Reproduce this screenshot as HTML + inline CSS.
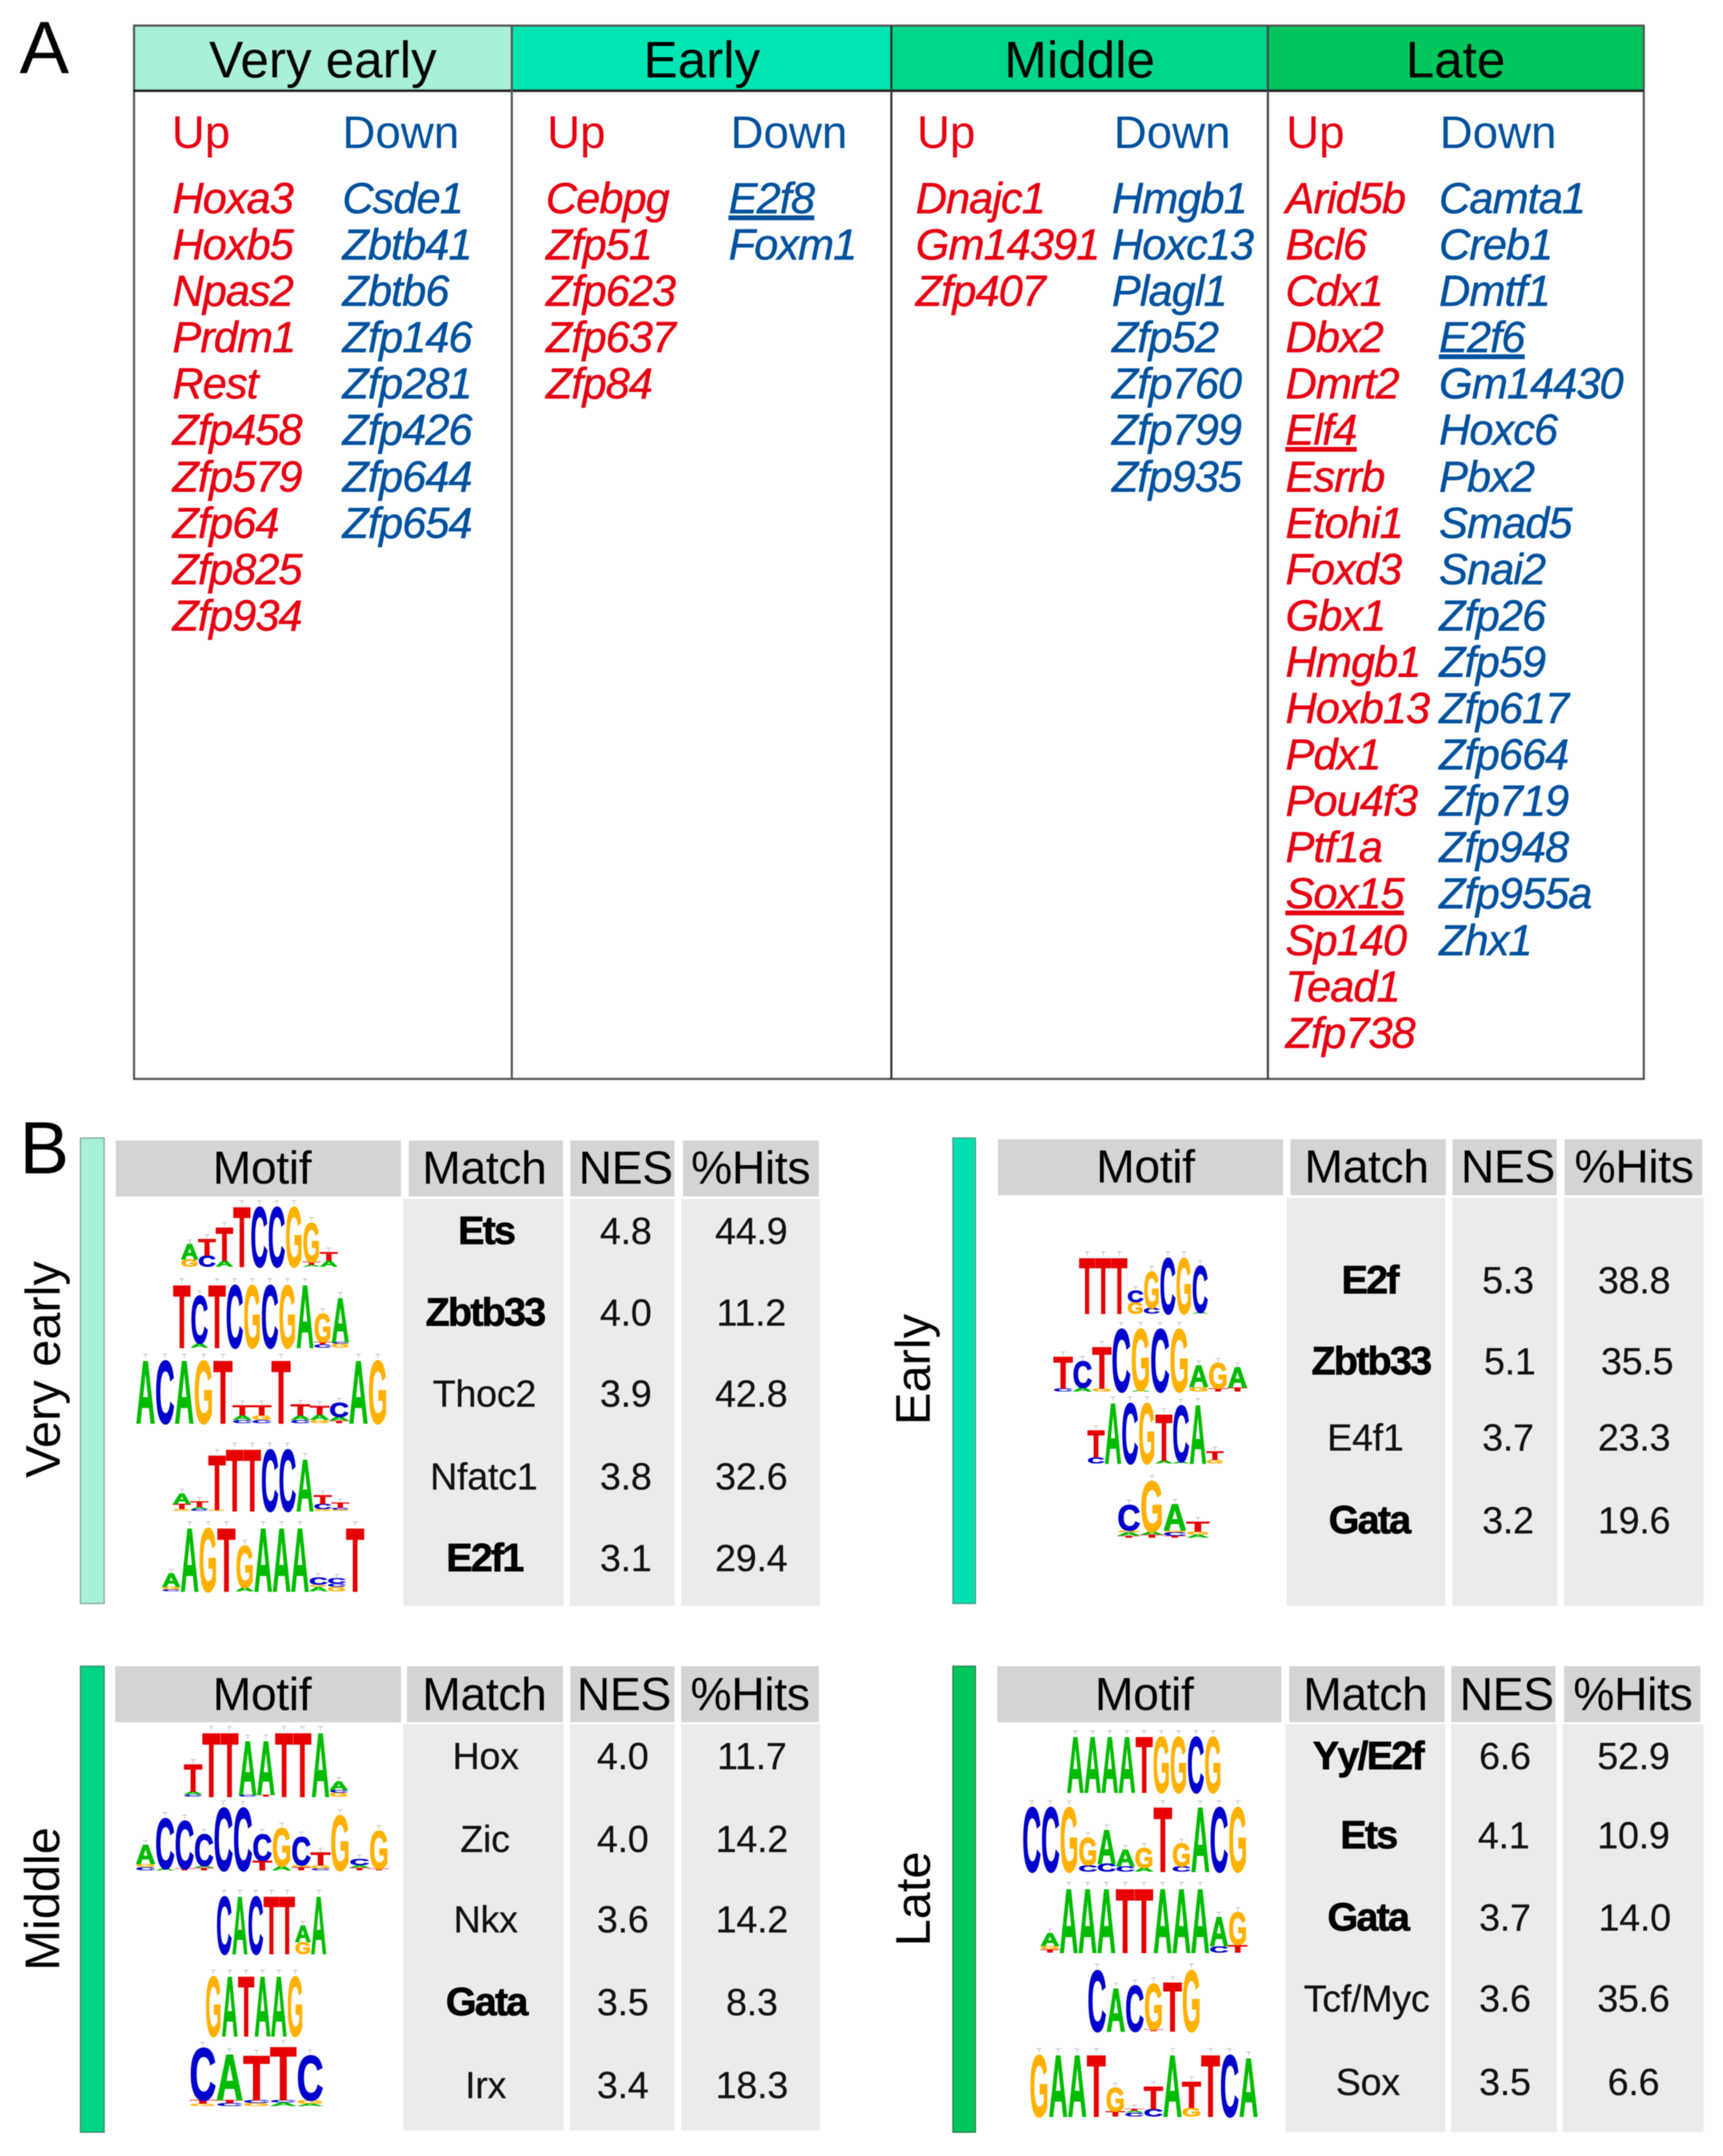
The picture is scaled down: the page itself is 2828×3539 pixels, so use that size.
<!DOCTYPE html>
<html lang="en">
<head>
<meta charset="utf-8">
<title>Transcription factors and motifs by stage</title>
<style>
html,body{margin:0;padding:0;background:#fff;}
svg{display:block;filter:blur(0.9px);}
text{font-family:"Liberation Sans",sans-serif;}
.hd{font-size:84px;text-anchor:middle;fill:#000;}
.up{font-size:75px;fill:#e60012;}
.dn{font-size:75px;fill:#00519e;}
.gu{font-size:71px;font-style:italic;fill:#e60012;letter-spacing:-1.5px;stroke:#e60012;stroke-width:.8px;}
.gd{font-size:71px;font-style:italic;fill:#00519e;letter-spacing:-1.5px;stroke:#00519e;stroke-width:.8px;}
.ul{text-decoration:underline;}
.th{font-size:76px;text-anchor:middle;fill:#000;letter-spacing:-.6px;}
.td{font-size:62px;text-anchor:middle;fill:#111;letter-spacing:-.5px;stroke:#111;stroke-width:.3px;}
.tb{font-size:65px;font-weight:bold;text-anchor:middle;fill:#000;letter-spacing:-3px;stroke:#000;stroke-width:1px;}
.pl{font-size:122px;fill:#000;}
.sl{font-size:80px;text-anchor:middle;fill:#000;}
.hc{fill:#d4d4d4;}
.bc{fill:#ebebeb;}
</style>
</head>
<body>
<svg xmlns="http://www.w3.org/2000/svg" width="2828" height="3539" viewBox="0 0 2828 3539">
<rect width="2828" height="3539" fill="#fff"/>

<text class="pl" x="32" y="120">A</text>
<text class="pl" x="32" y="1926">B</text>

<g>
  <rect x="219" y="42" width="621" height="107" fill="#a8f0d6"/>
  <rect x="840" y="42" width="623" height="107" fill="#00e5b2"/>
  <rect x="1463" y="42" width="618" height="107" fill="#00d68a"/>
  <rect x="2081" y="42" width="617" height="107" fill="#00c65c"/>
  <rect x="220" y="42" width="2478" height="1729" fill="none" stroke="#555" stroke-width="3.5"/>
  <line x1="219" y1="149" x2="2698" y2="149" stroke="#222" stroke-width="4"/>
  <line x1="840" y1="42" x2="840" y2="1771" stroke="#555" stroke-width="3.5"/>
  <line x1="1463" y1="42" x2="1463" y2="1771" stroke="#333" stroke-width="3.5"/>
  <line x1="2081" y1="42" x2="2081" y2="1771" stroke="#444" stroke-width="3.5"/>

  <text class="hd" x="530" y="127">Very early</text>
  <text class="hd" x="1152" y="127">Early</text>
  <text class="hd" x="1772" y="127">Middle</text>
  <text class="hd" x="2389" y="127">Late</text>

  <text class="up" x="282" y="243">Up</text>
  <text class="dn" x="562" y="243">Down</text>
  <text class="up" x="898" y="243">Up</text>
  <text class="dn" x="1199" y="243">Down</text>
  <text class="up" x="1505" y="243">Up</text>
  <text class="dn" x="1828" y="243">Down</text>
  <text class="up" x="2111" y="243">Up</text>
  <text class="dn" x="2363" y="243">Down</text>

  <g>
    <text class="gu" x="283" y="350">Hoxa3</text>
    <text class="gu" x="283" y="426">Hoxb5</text>
    <text class="gu" x="283" y="502">Npas2</text>
    <text class="gu" x="283" y="578">Prdm1</text>
    <text class="gu" x="283" y="654">Rest</text>
    <text class="gu" x="283" y="730">Zfp458</text>
    <text class="gu" x="283" y="807">Zfp579</text>
    <text class="gu" x="283" y="883">Zfp64</text>
    <text class="gu" x="283" y="959">Zfp825</text>
    <text class="gu" x="283" y="1035">Zfp934</text>
  </g>
  <g>
    <text class="gd" x="562" y="350">Csde1</text>
    <text class="gd" x="562" y="426">Zbtb41</text>
    <text class="gd" x="562" y="502">Zbtb6</text>
    <text class="gd" x="562" y="578">Zfp146</text>
    <text class="gd" x="562" y="654">Zfp281</text>
    <text class="gd" x="562" y="730">Zfp426</text>
    <text class="gd" x="562" y="807">Zfp644</text>
    <text class="gd" x="562" y="883">Zfp654</text>
  </g>
  <g>
    <text class="gu" x="896" y="350">Cebpg</text>
    <text class="gu" x="896" y="426">Zfp51</text>
    <text class="gu" x="896" y="502">Zfp623</text>
    <text class="gu" x="896" y="578">Zfp637</text>
    <text class="gu" x="896" y="654">Zfp84</text>
  </g>
  <g>
    <text class="gd ul" x="1196" y="350">E2f8</text>
    <text class="gd" x="1196" y="426">Foxm1</text>
  </g>
  <g>
    <text class="gu" x="1503" y="350">Dnajc1</text>
    <text class="gu" x="1503" y="426">Gm14391</text>
    <text class="gu" x="1503" y="502">Zfp407</text>
  </g>
  <g>
    <text class="gd" x="1825" y="350">Hmgb1</text>
    <text class="gd" x="1825" y="426">Hoxc13</text>
    <text class="gd" x="1825" y="502">Plagl1</text>
    <text class="gd" x="1825" y="578">Zfp52</text>
    <text class="gd" x="1825" y="654">Zfp760</text>
    <text class="gd" x="1825" y="730">Zfp799</text>
    <text class="gd" x="1825" y="807">Zfp935</text>
  </g>
  <g>
    <text class="gu" x="2110" y="350">Arid5b</text>
    <text class="gu" x="2110" y="426">Bcl6</text>
    <text class="gu" x="2110" y="502">Cdx1</text>
    <text class="gu" x="2110" y="578">Dbx2</text>
    <text class="gu" x="2110" y="654">Dmrt2</text>
    <text class="gu ul" x="2110" y="730">Elf4</text>
    <text class="gu" x="2110" y="807">Esrrb</text>
    <text class="gu" x="2110" y="883">Etohi1</text>
    <text class="gu" x="2110" y="959">Foxd3</text>
    <text class="gu" x="2110" y="1035">Gbx1</text>
    <text class="gu" x="2110" y="1111">Hmgb1</text>
    <text class="gu" x="2110" y="1187">Hoxb13</text>
    <text class="gu" x="2110" y="1263">Pdx1</text>
    <text class="gu" x="2110" y="1339">Pou4f3</text>
    <text class="gu" x="2110" y="1415">Ptf1a</text>
    <text class="gu ul" x="2110" y="1491">Sox15</text>
    <text class="gu" x="2110" y="1568">Sp140</text>
    <text class="gu" x="2110" y="1644">Tead1</text>
    <text class="gu" x="2110" y="1720">Zfp738</text>
  </g>
  <g>
    <text class="gd" x="2362" y="350">Camta1</text>
    <text class="gd" x="2362" y="426">Creb1</text>
    <text class="gd" x="2362" y="502">Dmtf1</text>
    <text class="gd ul" x="2362" y="578">E2f6</text>
    <text class="gd" x="2362" y="654">Gm14430</text>
    <text class="gd" x="2362" y="730">Hoxc6</text>
    <text class="gd" x="2362" y="807">Pbx2</text>
    <text class="gd" x="2362" y="883">Smad5</text>
    <text class="gd" x="2362" y="959">Snai2</text>
    <text class="gd" x="2362" y="1035">Zfp26</text>
    <text class="gd" x="2362" y="1111">Zfp59</text>
    <text class="gd" x="2362" y="1187">Zfp617</text>
    <text class="gd" x="2362" y="1263">Zfp664</text>
    <text class="gd" x="2362" y="1339">Zfp719</text>
    <text class="gd" x="2362" y="1415">Zfp948</text>
    <text class="gd" x="2362" y="1491">Zfp955a</text>
    <text class="gd" x="2362" y="1568">Zhx1</text>
  </g>
</g>

<!-- Very early motif table -->
<g>
  <rect x="132" y="1868" width="39" height="764" fill="#a8f0d6" stroke="#7fa898" stroke-width="2"/>
  <text class="sl" transform="translate(98 2248) rotate(-90)">Very early</text>
  <rect class="hc" x="190" y="1872" width="468" height="92"/>
  <rect class="hc" x="671" y="1872" width="253" height="92"/>
  <rect class="hc" x="936" y="1872" width="171" height="92"/>
  <rect class="hc" x="1121" y="1872" width="223" height="92"/>
  <rect class="bc" x="662" y="1968" width="263" height="668"/>
  <rect class="bc" x="935" y="1968" width="172" height="668"/>
  <rect class="bc" x="1118" y="1968" width="228" height="668"/>
  <text class="th" x="430" y="1943">Motif</text>
  <text class="th" x="795" y="1943">Match</text>
  <text class="th" x="1027" y="1943">NES</text>
  <text class="th" x="1232" y="1943">%Hits</text>
  <text class="tb" x="798" y="2042">Ets</text>
  <text class="td" x="1027" y="2042">4.8</text>
  <text class="td" x="1233" y="2042">44.9</text>
  <text class="tb" x="796" y="2176">Zbtb33</text>
  <text class="td" x="1027" y="2176">4.0</text>
  <text class="td" x="1233" y="2176">11.2</text>
  <text class="td" x="795" y="2309">Thoc2</text>
  <text class="td" x="1027" y="2309">3.9</text>
  <text class="td" x="1233" y="2309">42.8</text>
  <text class="td" x="794" y="2445">Nfatc1</text>
  <text class="td" x="1027" y="2445">3.8</text>
  <text class="td" x="1233" y="2445">32.6</text>
  <text class="tb" x="795" y="2579">E2f1</text>
  <text class="td" x="1027" y="2579">3.1</text>
  <text class="td" x="1233" y="2579">29.4</text>
</g>

<!-- Early motif table -->
<g>
  <rect x="1564" y="1868" width="37" height="764" fill="#00e0b0" stroke="#4a9a85" stroke-width="2"/>
  <text class="sl" transform="translate(1526 2248) rotate(-90)">Early</text>
  <rect class="hc" x="1638" y="1870" width="468" height="92"/>
  <rect class="hc" x="2118" y="1870" width="255" height="92"/>
  <rect class="hc" x="2384" y="1870" width="171" height="92"/>
  <rect class="hc" x="2568" y="1870" width="226" height="92"/>
  <rect class="bc" x="2112" y="1966" width="260" height="670"/>
  <rect class="bc" x="2384" y="1966" width="172" height="670"/>
  <rect class="bc" x="2567" y="1966" width="229" height="670"/>
  <text class="th" x="1880" y="1941">Motif</text>
  <text class="th" x="2243" y="1941">Match</text>
  <text class="th" x="2475" y="1941">NES</text>
  <text class="th" x="2682" y="1941">%Hits</text>
  <text class="tb" x="2248" y="2123">E2f</text>
  <text class="td" x="2475" y="2123">5.3</text>
  <text class="td" x="2682" y="2123">38.8</text>
  <text class="tb" x="2250" y="2256">Zbtb33</text>
  <text class="td" x="2478" y="2256">5.1</text>
  <text class="td" x="2687" y="2256">35.5</text>
  <text class="td" x="2241" y="2381">E4f1</text>
  <text class="td" x="2475" y="2381">3.7</text>
  <text class="td" x="2682" y="2381">23.3</text>
  <text class="tb" x="2247" y="2517">Gata</text>
  <text class="td" x="2475" y="2517">3.2</text>
  <text class="td" x="2682" y="2517">19.6</text>
</g>

<!-- Middle motif table -->
<g>
  <rect x="132" y="2735" width="39" height="765" fill="#00d484" stroke="#3f8a6b" stroke-width="2"/>
  <text class="sl" transform="translate(97 3117) rotate(-90)">Middle</text>
  <rect class="hc" x="189" y="2735" width="469" height="92"/>
  <rect class="hc" x="668" y="2735" width="256" height="92"/>
  <rect class="hc" x="936" y="2735" width="171" height="92"/>
  <rect class="hc" x="1118" y="2735" width="226" height="92"/>
  <rect class="bc" x="662" y="2830" width="263" height="667"/>
  <rect class="bc" x="935" y="2830" width="172" height="667"/>
  <rect class="bc" x="1118" y="2830" width="228" height="667"/>
  <text class="th" x="430" y="2807">Motif</text>
  <text class="th" x="795" y="2807">Match</text>
  <text class="th" x="1024" y="2807">NES</text>
  <text class="th" x="1231" y="2807">%Hits</text>
  <text class="td" x="797" y="2904">Hox</text>
  <text class="td" x="1022" y="2904">4.0</text>
  <text class="td" x="1234" y="2904">11.7</text>
  <text class="td" x="796" y="3040">Zic</text>
  <text class="td" x="1022" y="3040">4.0</text>
  <text class="td" x="1234" y="3040">14.2</text>
  <text class="td" x="797" y="3172">Nkx</text>
  <text class="td" x="1022" y="3172">3.6</text>
  <text class="td" x="1234" y="3172">14.2</text>
  <text class="tb" x="798" y="3308">Gata</text>
  <text class="td" x="1022" y="3308">3.5</text>
  <text class="td" x="1234" y="3308">8.3</text>
  <text class="td" x="797" y="3444">Irx</text>
  <text class="td" x="1022" y="3444">3.4</text>
  <text class="td" x="1234" y="3444">18.3</text>
</g>

<!-- Late motif table -->
<g>
  <rect x="1564" y="2735" width="37" height="765" fill="#00c65c" stroke="#2f7d4c" stroke-width="2"/>
  <text class="sl" transform="translate(1526 3117) rotate(-90)">Late</text>
  <rect class="hc" x="1637" y="2735" width="466" height="92"/>
  <rect class="hc" x="2116" y="2735" width="255" height="92"/>
  <rect class="hc" x="2382" y="2735" width="171" height="92"/>
  <rect class="hc" x="2567" y="2735" width="224" height="92"/>
  <rect class="bc" x="2110" y="2830" width="262" height="670"/>
  <rect class="bc" x="2382" y="2830" width="173" height="670"/>
  <rect class="bc" x="2565" y="2830" width="231" height="670"/>
  <text class="th" x="1878" y="2807">Motif</text>
  <text class="th" x="2241" y="2807">Match</text>
  <text class="th" x="2473" y="2807">NES</text>
  <text class="th" x="2680" y="2807">%Hits</text>
  <text class="tb" x="2245" y="2904">Yy/E2f</text>
  <text class="td" x="2470" y="2904">6.6</text>
  <text class="td" x="2681" y="2904">52.9</text>
  <text class="tb" x="2246" y="3034">Ets</text>
  <text class="td" x="2468" y="3034">4.1</text>
  <text class="td" x="2681" y="3034">10.9</text>
  <text class="tb" x="2245" y="3169">Gata</text>
  <text class="td" x="2470" y="3169">3.7</text>
  <text class="td" x="2683" y="3169">14.0</text>
  <text class="td" x="2243" y="3302">Tcf/Myc</text>
  <text class="td" x="2470" y="3302">3.6</text>
  <text class="td" x="2681" y="3302">35.6</text>
  <text class="td" x="2245" y="3439">Sox</text>
  <text class="td" x="2470" y="3439">3.5</text>
  <text class="td" x="2681" y="3439">6.6</text>
</g>

<g id="logos"></g>
</svg>

<script>
// Each motif: columns of [letter, relative height] stacked bottom to top.
const motifVeryEarly1 = [[["G",.12],["A",.25]],[["C",.18],["T",.27]],[["A",.1],["T",.55]],[["T",1]],[["C",1]],[["C",1]],[["G",1]],[["A",.03],["T",.05],["G",.65]],[["A",.1],["T",.14]]];
const motifVeryEarly2 = [[["T",1]],[["A",.07],["C",.75]],[["T",1]],[["C",1]],[["G",1]],[["C",1]],[["G",1]],[["A",1]],[["C",.05],["T",.04],["G",.45]],[["G",.06],["C",.03],["A",.7]]];
const motifVeryEarly3 = [[["A",1]],[["C",1]],[["A",1]],[["G",1]],[["T",1]],[["C",.05],["A",.07],["T",.16]],[["C",.05],["G",.07],["T",.16]],[["T",1]],[["C",.05],["A",.07],["T",.17]],[["G",.05],["A",.08],["T",.14]],[["T",.04],["A",.06],["C",.22]],[["A",1]],[["G",1]]];
const motifVeryEarly4 = [[["G",.03],["T",.08],["A",.17]],[["C",.03],["A",.03],["T",.09]],[["G",.02],["T",.88]],[["T",1]],[["T",1]],[["C",1]],[["C",1]],[["A",.84]],[["G",.03],["C",.08],["T",.14]],[["G",.02],["C",.03],["T",.08]]];
const motifVeryEarly5 = [[["C",.03],["G",.04],["A",.21]],[["A",1]],[["G",1]],[["T",1]],[["A",.06],["G",.66]],[["A",1]],[["A",1]],[["A",1]],[["A",.07],["G",.03],["C",.11]],[["G",.07],["C",.05],["C",.08]],[["T",1]]];
const motifEarly1 = [[["T",1]],[["T",1]],[["T",1]],[["G",.2],["C",.2]],[["C",.1],["G",.65]],[["C",1]],[["G",1]],[["A",.02],["C",.83]]];
const motifEarly2 = [[["C",.05],["T",.5]],[["A",.06],["C",.42]],[["G",.05],["T",.66]],[["C",1]],[["A",.02],["G",.98]],[["C",1]],[["G",1]],[["G",.07],["A",.34]],[["T",.05],["G",.4]],[["T",.06],["A",.32]]];
const motifEarly3 = [[["C",.1],["T",.44]],[["A",1]],[["C",1]],[["G",1]],[["A",.05],["T",.76]],[["A",.03],["C",.93]],[["A",.97]],[["G",.06],["T",.14]]];
const motifEarly4 = [[["T",.03],["A",.06],["G",.03],["C",.43]],[["T",.05],["A",.05],["G",.85]],[["T",.03],["C",.06],["G",.03],["A",.44]],[["A",.05],["G",.05],["T",.17]]];
const motifMiddle1 = [[["C",.03],["A",.05],["T",.42]],[["T",1]],[["T",1]],[["C",.03],["A",.84]],[["T",.03],["A",.84]],[["T",1]],[["T",1]],[["A",1]],[["G",.06],["C",.04],["A",.13]]];
const motifMiddle2 = [[["C",.05],["G",.05],["A",.3]],[["A",.03],["C",.8]],[["T",.03],["C",.76]],[["T",.04],["A",.03],["C",.5]],[["C",1]],[["C",1]],[["T",.15],["C",.42]],[["A",.07],["G",.6]],[["T",.05],["G",.03],["C",.45]],[["C",.03],["G",.05],["T",.2]],[["G",.87]],[["T",.04],["A",.04],["C",.1]],[["T",.03],["G",.6]]];
const motifMiddle3 = [[["C",1]],[["A",1]],[["C",1]],[["T",1]],[["T",1]],[["G",.2],["A",.28]],[["A",1]]];
const motifMiddle4 = [[["G",1]],[["A",1]],[["T",1]],[["A",1]],[["A",1]],[["G",1]]];
const motifMiddle5 = [[["G",.04],["T",.06],["C",.87]],[["C",.05],["T",.05],["A",.76]],[["G",.05],["C",.05],["T",.74]],[["A",.06],["C",.04],["T",.89]],[["A",.04],["G",.06],["C",.74]]];
const motifLate1 = [[["A",1]],[["A",1]],[["A",1]],[["A",1]],[["T",1]],[["G",1]],[["G",1]],[["C",1]],[["G",1]]];
const motifLate2 = [[["C",1]],[["C",1]],[["G",1]],[["C",.1],["G",.42]],[["C",.12],["A",.52]],[["C",.08],["A",.25]],[["A",.06],["G",.3]],[["T",1]],[["C",.08],["G",.35]],[["A",1]],[["C",1]],[["G",1]]];
const motifLate3 = [[["T",.05],["G",.05],["A",.2]],[["A",1]],[["A",1]],[["A",1]],[["T",1]],[["T",1]],[["A",1]],[["A",1]],[["A",1]],[["C",.1],["A",.45]],[["T",.12],["G",.5]]];
const motifLate4 = [[["C",1]],[["A",.7]],[["C",.75]],[["T",.03],["G",.75]],[["T",.8]],[["G",1]]];
const motifLate5 = [[["G",1]],[["A",1]],[["A",1]],[["T",1]],[["T",.08],["G",.38]],[["C",.06],["A",.03],["T",.03]],[["C",.12],["T",.36]],[["A",1]],[["G",.14],["T",.42]],[["T",1]],[["C",1]],[["A",.95]]];

// Logo frames: plot rectangles (left, right, top, base) and data sets, in page order.
const motifSets = [motifVeryEarly1,motifVeryEarly2,motifVeryEarly3,motifVeryEarly4,motifVeryEarly5,motifEarly1,motifEarly2,motifEarly3,motifEarly4,motifMiddle1,motifMiddle2,motifMiddle3,motifMiddle4,motifMiddle5,motifLate1,motifLate2,motifLate3,motifLate4,motifLate5];
const motifNames = ["very-early-ets","very-early-zbtb33","very-early-thoc2","very-early-nfatc1","very-early-e2f1","early-e2f","early-zbtb33","early-e4f1","early-gata","middle-hox","middle-zic","middle-nkx","middle-gata","middle-irx","late-yy-e2f","late-ets","late-gata","late-tcf-myc","late-sox"];
const frameLeft  = [297,284,223,284,266,1771,1729,1785,1834,302,223,355,337,311,1751,1678,1708,1785,1690];
const frameRight = [554,573,636,573,598,1983,2047,2008,1985,571,638,536,498,531,2005,2047,2047,1971,2065];
const frameTop   = [1977,2105,2229,2375,2504,2061,2177,2299,2423,2840,2963,3109,3240,3355,2847,2962,3096,3230,3369];
const frameBase  = [2079,2212,2336,2480,2612,2156,2284,2402,2524,2949,3070,3207,3342,3457,2942,3072,3205,3334,3474];

const letterColors = {A:"#00bb00",C:"#0000cc",G:"#ffb000",T:"#e60000"};
const letterAdvance = {A:.722,C:.722,G:.778,T:.611};
const SVGNS = "http://www.w3.org/2000/svg";
const logosRoot = document.getElementById("logos");

function xScale(f, i, n){ return frameLeft[f] + (frameRight[f]-frameLeft[f]) * i / n; }
function heightScale(f, v){ return (frameBase[f]-frameTop[f]) * v; }

motifSets.forEach(function(columns, f){
  const g = document.createElementNS(SVGNS,"g");
  
  
  const n = columns.length;
  const colW = xScale(f,1,n) - xScale(f,0,n);
  columns.forEach(function(stack, i){
    let y = frameBase[f];
    const x = xScale(f,i,n);
    stack.forEach(function(entry){
      const letter = entry[0];
      const h = heightScale(f, entry[1]);
      const t = document.createElementNS(SVGNS,"text");
      t.textContent = letter;
      
      
      const sx = colW / (letterAdvance[letter]*100);
      const sy = h / 72.9;
      t.setAttribute("transform","translate("+x.toFixed(2)+" "+y.toFixed(2)+") scale("+sx.toFixed(4)+" "+sy.toFixed(4)+")");
      t.setAttribute("font-size","100");
      t.setAttribute("font-weight","bold");
      t.setAttribute("fill",letterColors[letter]);
      t.setAttribute("stroke",letterColors[letter]);
      t.setAttribute("stroke-width","1.5");
      t.setAttribute("vector-effect","non-scaling-stroke");
      g.appendChild(t);
      y -= h;
    });
    const cx = x + colW/2;
    const bar = document.createElementNS(SVGNS,"path");
    
    
    bar.setAttribute("d","M"+cx.toFixed(1)+" "+y.toFixed(1)+"V"+(y-6).toFixed(1)+"M"+(cx-4).toFixed(1)+" "+(y-6).toFixed(1)+"H"+(cx+4).toFixed(1));
    bar.setAttribute("stroke","#bbb");
    bar.setAttribute("stroke-width","1.2");
    bar.setAttribute("fill","none");
    g.appendChild(bar);
  });
  logosRoot.appendChild(g);
});
</script>
</body>
</html>
